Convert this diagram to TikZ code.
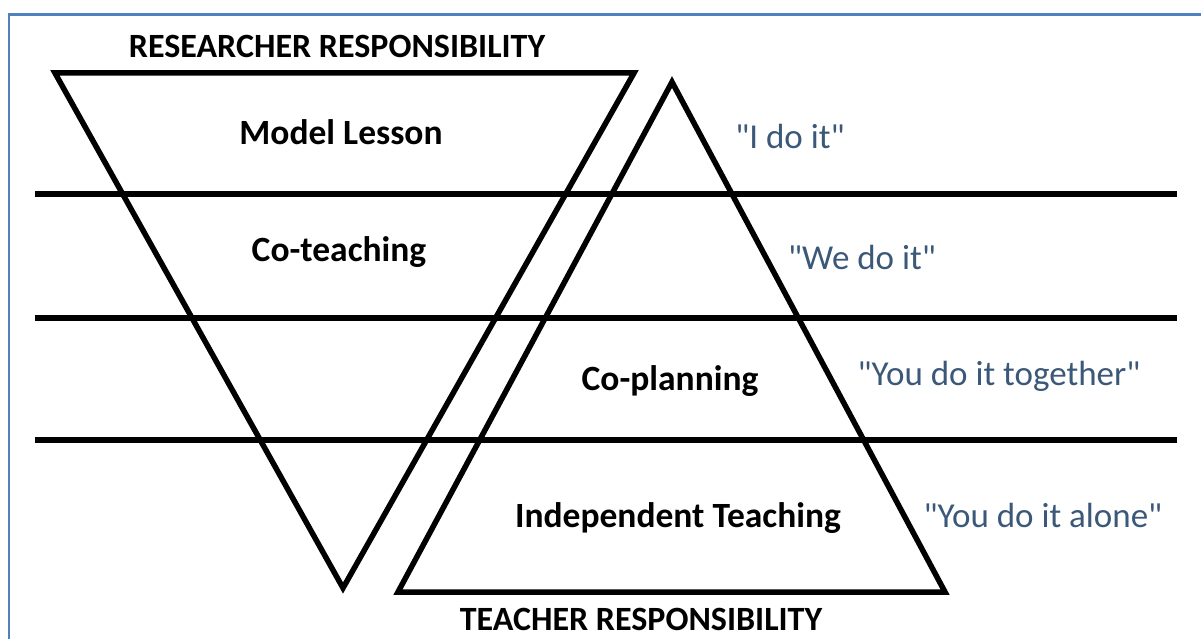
\documentclass[tikz,border=0pt]{standalone}
\usepackage{fontspec}
\setmainfont{Carlito}
\newfontfamily\qfont{Carlito}[Ligatures=TeXOff]
\definecolor{framec}{HTML}{4F81BD}
\definecolor{quotec}{HTML}{3B5878}
\begin{document}
\begin{tikzpicture}[x=1pt,y=-1pt,
  shapeline/.style={line width=5.5pt,line join=miter,black},
  bandline/.style={line width=5.5pt,black},
  hdr/.style={font=\bfseries\fontsize{34}{38}\selectfont,inner sep=0pt},
  lbl/.style={font=\bfseries\fontsize{35.5}{40}\selectfont,inner sep=0pt},
  quote/.style={font=\qfont\fontsize{35}{40}\selectfont,text=quotec,inner sep=0pt}]
\useasboundingbox (0,0) rectangle (1201,639);
\fill[white] (0,0) rectangle (1201,639);
\draw[framec,line width=2.5pt] (9,639) -- (9,14.5) -- (1201,14.5);
% triangles
\coordinate (a1) at (55,73);
\coordinate (a2) at (634,73);
\coordinate (a3) at (343,588);
\coordinate (b1) at (672,82);
\coordinate (b2) at (945,592);
\coordinate (b3) at (398,592);
\draw[shapeline] (a1) -- (a2) -- (a3) -- cycle;
\draw[shapeline] (b1) -- (b2) -- (b3) -- cycle;
% bands
\coordinate (l1) at (35,194); \coordinate (r1) at (1177,194);
\coordinate (l2) at (35,318); \coordinate (r2) at (1177,318);
\coordinate (l3) at (35,440); \coordinate (r3) at (1177,440);
\draw[bandline] (l1) -- (r1);
\draw[bandline] (l2) -- (r2);
\draw[bandline] (l3) -- (r3);
% labels
\node[hdr] (res) at (337,46) {RESEARCHER RESPONSIBILITY};
\node[hdr] (tea) at (641,619) {TEACHER RESPONSIBILITY};
\node[lbl] (ml) at (341,132) {Model Lesson};
\node[lbl] (ct) at (339,252) {Co-teaching};
\node[lbl] (cp) at (670,381) {Co-planning};
\node[lbl] (it) at (678,518) {Independent Teaching};
\node[quote] (q1) at (790,136) {"I do it"};
\node[quote] (q2) at (862,257) {"We do it"};
\node[quote] (q3) at (999,376) {"You do it together"};
\node[quote] (q4) at (1043,515) {"You do it alone"};
\end{tikzpicture}
\end{document}
